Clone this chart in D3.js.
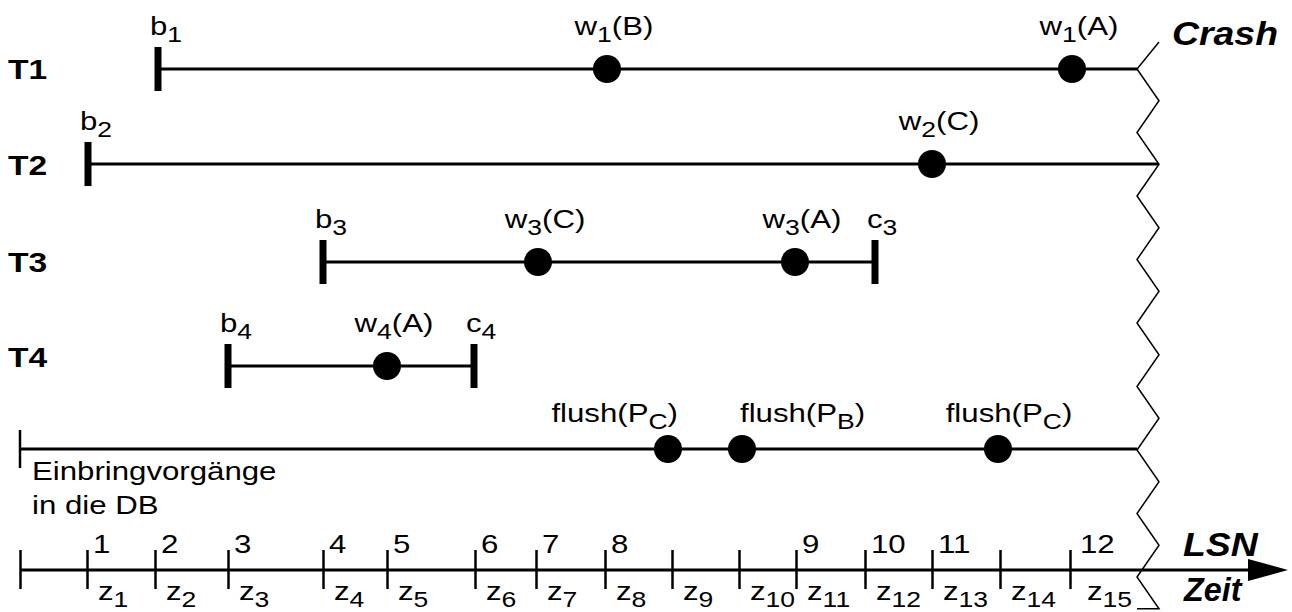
<!DOCTYPE html>
<html>
<head>
<meta charset="utf-8">
<script src="https://cdn.jsdelivr.net/npm/d3@7/dist/d3.min.js"></script>
<style>
  body { margin: 0; background: #fff; }
  svg { display: block; font-family: "Liberation Sans", Arial, sans-serif; }
  .row-line, .axis-line { stroke: #000; stroke-width: 3; fill: none; }
  .bar { stroke: #000; stroke-width: 7; }
  .thin { stroke: #000; stroke-width: 2.5; }
  .dot { fill: #000; }
  .crash { stroke: #000; stroke-width: 1.5; fill: none; }
  .lbl { font-size: 26px; fill: #000; }
  .row-lbl { font-size: 28px; font-weight: bold; fill: #000; }
  .big { font-size: 34px; font-weight: bold; font-style: italic; fill: #000; }
</style>
</head>
<body>
<div id="chart"></div>
<script>
// transactions and when they start / commit (null = still running at crash)
const transactions = ['T1', 'T2', 'T3', 'T4'];
const beginTimes = [13.8, 6.8, 30.3, 20.8];
const commitTimes = [null, null, 85.5, 45.4];

// write operations
const writeRows = ['T1', 'T1', 'T2', 'T3', 'T3', 'T4'];
const writeTimes = [58.7, 105.2, 91.2, 51.8, 77.5, 36.7];
const writePages = ['B', 'A', 'C', 'C', 'A', 'A'];

// page flushes into the DB
const flushTimes = [64.8, 72.2, 97.8];
const flushPages = ['C', 'B', 'C'];

// time axis
const tickTimes = [0, 6.7, 13.5, 20.8, 30.3, 36.7, 45.5, 51.6, 58.5, 65.2, 71.9, 77.6, 84.5, 91.2, 98.0, 105.0];
const lsnNumbers = ['', '1', '2', '3', '4', '5', '6', '7', '8', '', '', '9', '10', '11', '', '12'];
const intervalNames = ['', '1', '2', '3', '4', '5', '6', '7', '8', '9', '10', '11', '12', '13', '14', '15'];
const crashTime = 111.7;

class Timeline {

    constructor(opts) {
        this.element = opts.element;
        this.width = 1292;
        this.height = 612;
        this.axisY = 570;
        this.draw();
    }

    draw() {
        this.element.innerHTML = '';
        this.svg = d3.select(this.element).append('svg')
            .attr('width', this.width)
            .attr('height', this.height);

        this.createScales();
        this.addAxis();
        this.addRows();
        this.addCrash();
    }

    createScales() {
        this.x = d3.scaleLinear()
            .domain([0, crashTime])
            .range([20, 1137]);

        this.y = d3.scaleOrdinal()
            .domain([...transactions, 'DB'])
            .range([69, 164, 262, 366, 449]);
    }

    // text with an optional subscript part, stretched a bit wider like the original
    label(x, y, parts, cls, anchor, sx) {
        const g = this.svg.append('g')
            .attr('transform', `translate(${x},${y}) scale(${sx || 1.2},1)`);
        const t = g.append('text')
            .attr('class', cls || 'lbl')
            .attr('text-anchor', anchor || 'start');
        t.append('tspan').text(parts[0]);
        if (parts[1]) {
            t.append('tspan').attr('font-size', '85%').attr('dy', 7).text(parts[1]);
            if (parts[2]) t.append('tspan').attr('dy', -7).text(parts[2]);
        }
        return t;
    }

    addAxis() {
        const x = this.x;
        const ay = this.axisY;

        const xAxis = d3.axisBottom(x)
            .tickValues(tickTimes)
            .tickSize(19)
            .tickFormat('');

        const g = this.svg.append('g')
            .attr('transform', `translate(0,${ay})`)
            .call(xAxis);
        g.select('.domain').remove();
        g.selectAll('.tick line')
            .attr('y1', -20)
            .attr('stroke', '#000')
            .attr('stroke-width', 2.5);

        // axis line with arrow head
        this.svg.append('line')
            .attr('class', 'axis-line')
            .attr('x1', x(0)).attr('x2', 1252)
            .attr('y1', ay).attr('y2', ay);
        this.svg.append('path')
            .attr('d', `M1248,${ay - 11}L1288,${ay}L1248,${ay + 11}Z`)
            .attr('fill', '#000');

        tickTimes.forEach((t, i) => {
            if (lsnNumbers[i]) this.label(x(t) + (i === 15 ? 10 : 6), ay - 17, [lsnNumbers[i]]);
            if (intervalNames[i]) this.label(x(t) + (i === 15 ? 17 : 11), ay + 30, ['z', intervalNames[i]]);
        });

        this.label(1183, ay - 14, ['LSN'], 'big', 'start', 1.1);
        this.label(1184, ay + 31, ['Zeit'], 'big', 'start', 0.95);
    }

    addRows() {
        const x = this.x, y = this.y;
        const labelDy = [10, 11, 10, 1];

        transactions.forEach((name, i) => {
            const ry = y(name);
            const end = commitTimes[i] === null ? crashTime : commitTimes[i];
            const num = name.slice(1);

            this.label(8, ry + labelDy[i], [name], 'row-lbl', 'start', 1.2);

            this.svg.append('line')
                .attr('class', 'row-line')
                .attr('x1', x(beginTimes[i])).attr('x2', x(end) + (i === 1 ? 21 : 0))
                .attr('y1', ry).attr('y2', ry);

            this.svg.append('line')
                .attr('class', 'bar')
                .attr('x1', x(beginTimes[i])).attr('x2', x(beginTimes[i]))
                .attr('y1', ry - 22).attr('y2', ry + 22);
            this.label(x(beginTimes[i]) - 8, ry - 34, ['b', num]);

            if (commitTimes[i] !== null) {
                this.svg.append('line')
                    .attr('class', 'bar')
                    .attr('x1', x(commitTimes[i])).attr('x2', x(commitTimes[i]))
                    .attr('y1', ry - 22).attr('y2', ry + 22);
                this.label(x(commitTimes[i]) - 8, ry - 34, ['c', num]);
            }
        });

        // writes
        this.svg.selectAll('.wdot')
            .data(writeTimes)
            .enter().append('circle')
            .attr('class', 'dot')
            .attr('r', 14)
            .attr('cx', d => x(d))
            .attr('cy', (d, i) => y(writeRows[i]));
        writeTimes.forEach((t, i) => {
            this.label(x(t) + 7, y(writeRows[i]) - 34,
                ['w', writeRows[i].slice(1), '(' + writePages[i] + ')'], 'lbl', 'middle');
        });

        // flushes into the DB
        const dy = y('DB');
        this.svg.append('line')
            .attr('class', 'row-line')
            .attr('x1', x(0)).attr('x2', x(crashTime))
            .attr('y1', dy).attr('y2', dy);
        this.svg.append('line')
            .attr('class', 'thin')
            .attr('x1', x(0)).attr('x2', x(0))
            .attr('y1', dy - 19).attr('y2', dy + 19);

        this.svg.selectAll('.fdot')
            .data(flushTimes)
            .enter().append('circle')
            .attr('class', 'dot')
            .attr('r', 14)
            .attr('cx', d => x(d))
            .attr('cy', dy);

        const anchors = ['end', 'start', 'middle'];
        const dxs = [10, -2, 11];
        flushTimes.forEach((t, i) => {
            this.label(x(t) + dxs[i], dy - 27, ['flush(P', flushPages[i], ')'], 'lbl', anchors[i]);
        });

        this.label(32, 480, ['Einbringvorgänge']);
        this.label(32, 514, ['in die DB']);
    }

    addCrash() {
        const cx = this.x(crashTime);
        const amp = 22;
        const half = 31.75;
        // vertices of the zig-zag: left ones sit on the row lines
        const pts = d3.range(0, 19).map(j => [j % 2 === 0 ? cx + amp : cx, 37.25 + half * j]);
        pts[0][1] = 42;
        pts.push([cx, pts[pts.length - 1][1]]);

        this.svg.append('path')
            .attr('class', 'crash')
            .attr('d', d3.line()(pts));

        this.label(1172, 45, ['Crash'], 'big', 'start', 1.1);
    }
}

new Timeline({ element: document.getElementById('chart') });
</script>
</body>
</html>
